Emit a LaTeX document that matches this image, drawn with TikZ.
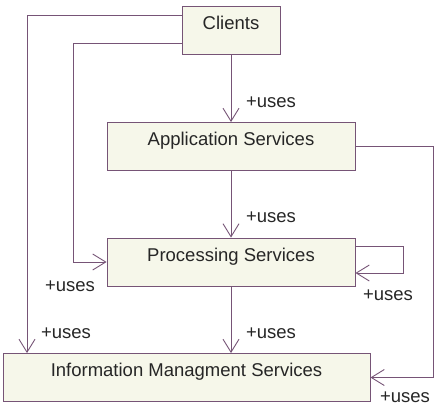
\documentclass[tikz,border=0pt]{standalone}
\usepackage{fontspec}
\setmainfont{Liberation Sans}
\usetikzlibrary{arrows.meta}
\definecolor{boxfill}{RGB}{246,247,234}
\definecolor{linec}{RGB}{118,84,118}
\begin{document}
\begin{tikzpicture}[x=1bp, y=-1bp, >={Straight Barb[length=13bp,width=16bp]},
  every node/.style={font=\fontsize{18.5bp}{22bp}\selectfont, text=black!85},
  cls/.style={draw=linec, fill=boxfill, line width=0.9bp, inner xsep=0pt, inner ysep=0pt,
    text height=23bp, text depth=25bp, align=center},
  uses/.style={->, draw=linec, line width=0.9bp}]
\useasboundingbox (0,0) rectangle (434,410);

\node[cls, minimum width=98bp] (clients) at (231,30.5) {Clients};
\node[cls, minimum width=248bp] (app) at (231,146.5) {Application Services};
\node[cls, minimum width=248bp] (proc) at (231,262) {Processing Services};
\node[cls, minimum width=367bp] (info) at (186.5,377.5) {Information Managment Services};

\coordinate (lft) at (27,0);
\coordinate (mid) at (73,0);
\coordinate (loop) at (403,0);
\coordinate (rgt) at (433,0);

\draw[uses] (clients) -- (app);
\draw[uses] (app) -- (proc);
\draw[uses] (proc.south) -- (proc.south |- info.north);
\draw[uses] ([yshift=15bp]clients.west) -| (lft |- info.north);
\draw[uses] ([yshift=-13bp]clients.west) -| (mid |- proc.west) -- (proc.west);
\draw[uses] (app.east) -| (rgt |- info.east) -- (info.east);
\draw[uses] ([yshift=16bp]proc.east) -| ([yshift=-11bp]proc.east -| loop) -- ([yshift=-11bp]proc.east);

\node (u1) at (271,102) {+uses};
\node (u2) at (271,217) {+uses};
\node (u3) at (271,333) {+uses};
\node (u4) at (66,333) {+uses};
\node (u5) at (70,286) {+uses};
\node (u6) at (388,295) {+uses};
\node (u7) at (405,397) {+uses};
\end{tikzpicture}
\end{document}
